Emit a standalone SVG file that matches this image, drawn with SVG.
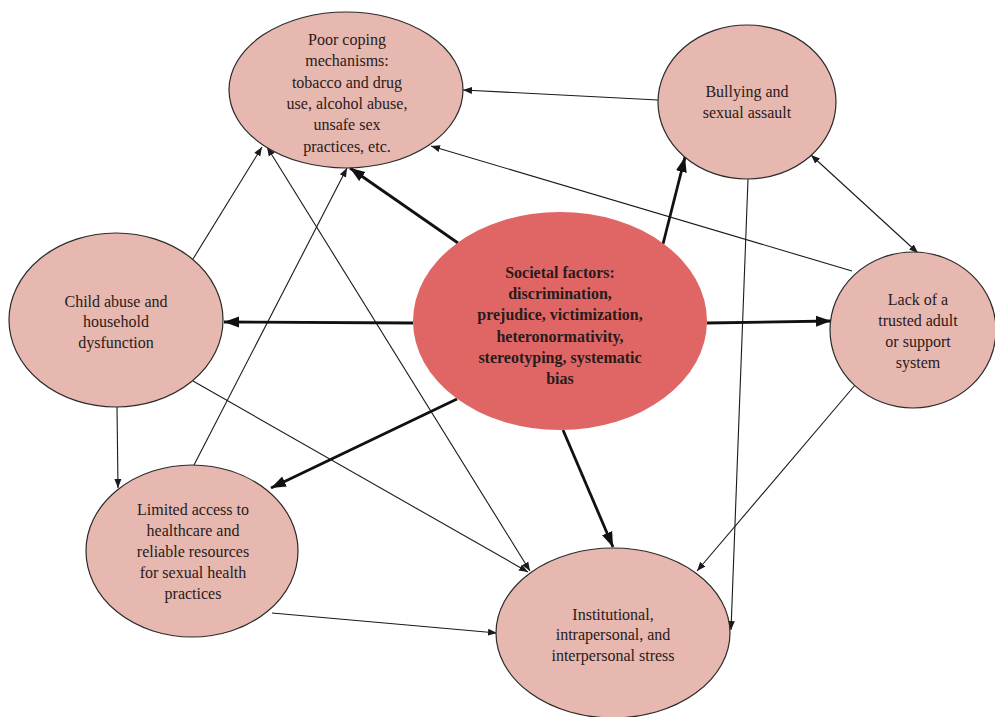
<svg xmlns="http://www.w3.org/2000/svg" width="995" height="717" viewBox="0 0 995 717">
<style>
.node{fill:#e6b8af;stroke:#2a2a2a;stroke-width:1.2}
.core{fill:#e06666;stroke:none}
.t{font-family:"Liberation Serif","Times New Roman",serif;font-size:16px;fill:#2a1a1a;text-anchor:middle}
.b{font-weight:bold}
.thin{stroke:#1a1a1a;stroke-width:1.1;fill:none;marker-end:url(#ah)}
.thick{stroke:#111;stroke-width:2.8;fill:none;marker-end:url(#AH)}
.both{marker-start:url(#ah)}
</style>
<defs>
<marker id="ah" markerUnits="userSpaceOnUse" markerWidth="10" markerHeight="8" refX="9" refY="4" orient="auto-start-reverse">
<path d="M0,0.5 L9,4 L0,7.5 z" fill="#1a1a1a"/>
</marker>
<marker id="AH" markerUnits="userSpaceOnUse" markerWidth="16" markerHeight="12" refX="15" refY="6" orient="auto">
<path d="M0,0.5 L15,6 L0,11.5 z" fill="#111"/>
</marker>
</defs>
<rect width="995" height="717" fill="#ffffff"/>
<g id="connectors">
<line class="thin" x1="658" y1="100" x2="463" y2="90"/>
<line class="thin" x1="852" y1="271" x2="431" y2="146"/>
<line class="thin" x1="193" y1="259" x2="262" y2="147"/>
<line class="thin" x1="117" y1="407" x2="118" y2="488"/>
<line class="thin" x1="193" y1="381" x2="528" y2="572"/>
<line class="thin" x1="194" y1="465" x2="347" y2="168"/>
<line class="thin both" x1="267" y1="147" x2="530" y2="571"/>
<line class="thin" x1="272" y1="613" x2="497" y2="633"/>
<line class="thin" x1="748" y1="179" x2="731" y2="630"/>
<line class="thin" x1="856" y1="384" x2="697" y2="571"/>
<line class="thin both" x1="811" y1="155" x2="918" y2="253"/>
<line class="thick" x1="458" y1="243" x2="350" y2="168"/>
<line class="thick" x1="663" y1="244" x2="685" y2="157"/>
<line class="thick" x1="413" y1="323" x2="224" y2="322"/>
<line class="thick" x1="707" y1="323" x2="831" y2="321"/>
<line class="thick" x1="457" y1="399" x2="271" y2="488"/>
<line class="thick" x1="563" y1="430" x2="613" y2="547"/>
</g>
<g id="poor-coping">
<ellipse class="node" cx="346" cy="90" rx="117" ry="78"/>
<text class="t" x="347" y="45">Poor coping</text>
<text class="t" x="347" y="66">mechanisms:</text>
<text class="t" x="347" y="88">tobacco and drug</text>
<text class="t" x="347" y="109">use, alcohol abuse,</text>
<text class="t" x="347" y="130">unsafe sex</text>
<text class="t" x="347" y="152">practices, etc.</text>
</g>
<g id="bullying">
<ellipse class="node" cx="747" cy="102" rx="89" ry="77"/>
<text class="t" x="747" y="97">Bullying and</text>
<text class="t" x="747" y="118">sexual assault</text>
</g>
<g id="societal">
<ellipse class="core" cx="560" cy="321" rx="147" ry="109"/>
<text class="t b" x="560" y="278">Societal factors:</text>
<text class="t b" x="560" y="299">discrimination,</text>
<text class="t b" x="560" y="320">prejudice, victimization,</text>
<text class="t b" x="560" y="342">heteronormativity,</text>
<text class="t b" x="560" y="363">stereotyping, systematic</text>
<text class="t b" x="560" y="384">bias</text>
</g>
<g id="child-abuse">
<ellipse class="node" cx="116" cy="320" rx="107" ry="87"/>
<text class="t" x="116" y="307">Child abuse and</text>
<text class="t" x="116" y="327">household</text>
<text class="t" x="116" y="348">dysfunction</text>
</g>
<g id="lack">
<ellipse class="node" cx="913" cy="330" rx="83" ry="78"/>
<text class="t" x="918" y="305">Lack of a</text>
<text class="t" x="918" y="326">trusted adult</text>
<text class="t" x="918" y="347">or support</text>
<text class="t" x="918" y="368">system</text>
</g>
<g id="limited-access">
<ellipse class="node" cx="192" cy="551" rx="106" ry="86"/>
<text class="t" x="193" y="515">Limited access to</text>
<text class="t" x="193" y="536">healthcare and</text>
<text class="t" x="193" y="557">reliable resources</text>
<text class="t" x="193" y="578">for sexual health</text>
<text class="t" x="193" y="599">practices</text>
</g>
<g id="stress">
<ellipse class="node" cx="613" cy="633" rx="117" ry="85"/>
<text class="t" x="613" y="620">Institutional,</text>
<text class="t" x="613" y="640">intrapersonal, and</text>
<text class="t" x="613" y="661">interpersonal stress</text>
</g>
</svg>
